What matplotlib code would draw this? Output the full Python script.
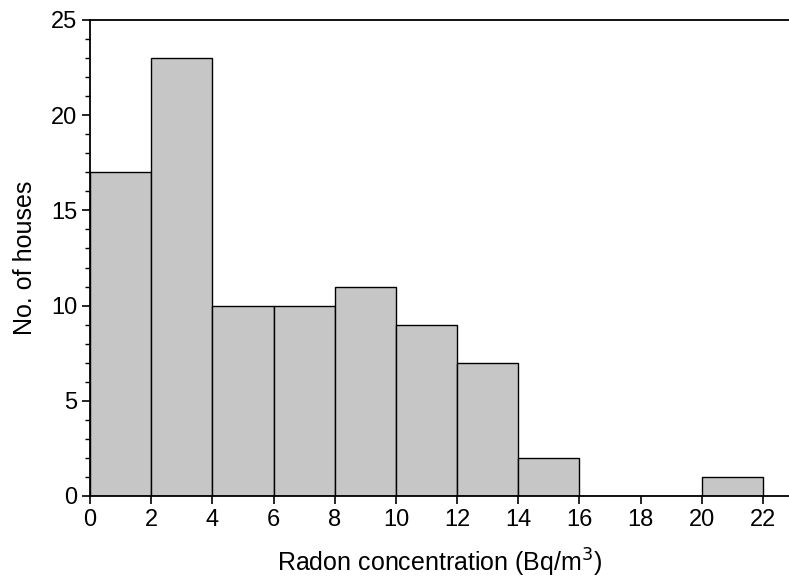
import matplotlib
matplotlib.use("Agg")
import matplotlib.pyplot as plt
from matplotlib.ticker import MultipleLocator

plt.rcParams['font.family'] = ['Liberation Sans', 'DejaVu Sans']

bin_left = [0, 2, 4, 6, 8, 10, 12, 14, 16, 18, 20]
counts = [17, 23, 10, 10, 11, 9, 7, 2, 0, 0, 1]
bin_width = 2

fig = plt.figure(figsize=(7.89, 5.80), dpi=100)
ax = fig.add_axes([90/789, 1 - 496/580, 1 - 90/789, (496 - 20)/580])

ax.bar(bin_left, counts, width=bin_width, align='edge', color='#c6c6c6',
       edgecolor='black', linewidth=1.0)

ax.set_xlim(0, 22.85)
ax.set_ylim(0, 25)
ax.xaxis.set_major_locator(MultipleLocator(2))
ax.yaxis.set_major_locator(MultipleLocator(5))
ax.yaxis.set_minor_locator(MultipleLocator(1))
ax.spines['right'].set_visible(False)
for s in ['left', 'bottom', 'top']:
    ax.spines[s].set_linewidth(1.3)
ax.tick_params(axis='both', which='major', direction='out', length=6, width=1.2,
               labelsize=17, pad=3)
ax.tick_params(axis='y', which='minor', direction='out', length=3.5, width=1.0)
ax.tick_params(top=False, right=False)

ax.set_xlabel('Radon concentration (Bq/m$^3$)', fontsize=18, labelpad=12)
ax.set_ylabel('No. of houses', fontsize=18, labelpad=10)

fig.savefig('out.png', dpi=100)
